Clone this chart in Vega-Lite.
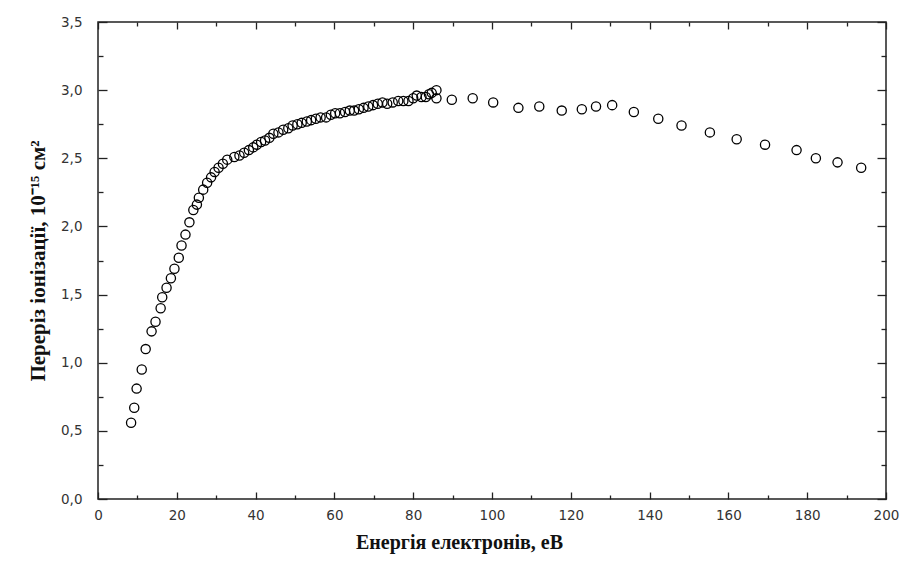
{
  "$schema": "https://vega.github.io/schema/vega-lite/v6.json",
  "width": 788,
  "height": 477,
  "autosize": "none",
  "padding": {"left": 98, "top": 22, "right": 19, "bottom": 66},
  "background": "white",
  "config": {
    "view": {"stroke": "#222", "strokeWidth": 1.5},
    "axis": {"grid": false, "domain": false, "tickColor": "#222", "tickWidth": 1.3, "labelFlush": false, "labelOverlap": false}
  },
  "data": {"values": [
    {"energy": 8.4, "sigma": 0.56}, {"energy": 9.2, "sigma": 0.67}, {"energy": 9.8, "sigma": 0.81},
    {"energy": 11.1, "sigma": 0.95}, {"energy": 12.1, "sigma": 1.10}, {"energy": 13.6, "sigma": 1.23},
    {"energy": 14.6, "sigma": 1.30}, {"energy": 15.9, "sigma": 1.40}, {"energy": 16.3, "sigma": 1.48},
    {"energy": 17.4, "sigma": 1.55}, {"energy": 18.5, "sigma": 1.62}, {"energy": 19.4, "sigma": 1.69},
    {"energy": 20.5, "sigma": 1.77}, {"energy": 21.2, "sigma": 1.86}, {"energy": 22.2, "sigma": 1.94},
    {"energy": 23.2, "sigma": 2.03}, {"energy": 24.2, "sigma": 2.12}, {"energy": 25.1, "sigma": 2.16},
    {"energy": 25.6, "sigma": 2.21}, {"energy": 26.7, "sigma": 2.27}, {"energy": 27.7, "sigma": 2.32},
    {"energy": 28.7, "sigma": 2.36}, {"energy": 29.6, "sigma": 2.40}, {"energy": 30.6, "sigma": 2.43},
    {"energy": 31.7, "sigma": 2.46}, {"energy": 32.8, "sigma": 2.49}, {"energy": 34.6, "sigma": 2.51},
    {"energy": 35.9, "sigma": 2.52}, {"energy": 37.1, "sigma": 2.54}, {"energy": 38.3, "sigma": 2.56},
    {"energy": 39.4, "sigma": 2.58}, {"energy": 40.3, "sigma": 2.60}, {"energy": 41.4, "sigma": 2.62},
    {"energy": 42.4, "sigma": 2.63}, {"energy": 43.5, "sigma": 2.65}, {"energy": 44.5, "sigma": 2.68},
    {"energy": 45.8, "sigma": 2.69}, {"energy": 47.0, "sigma": 2.71}, {"energy": 48.3, "sigma": 2.72},
    {"energy": 49.4, "sigma": 2.74}, {"energy": 50.6, "sigma": 2.75}, {"energy": 51.7, "sigma": 2.76},
    {"energy": 53.0, "sigma": 2.77}, {"energy": 54.1, "sigma": 2.78}, {"energy": 55.3, "sigma": 2.79},
    {"energy": 56.5, "sigma": 2.80}, {"energy": 57.9, "sigma": 2.80}, {"energy": 59.1, "sigma": 2.82},
    {"energy": 60.2, "sigma": 2.83}, {"energy": 61.4, "sigma": 2.83}, {"energy": 62.7, "sigma": 2.84},
    {"energy": 63.9, "sigma": 2.85}, {"energy": 65.0, "sigma": 2.85}, {"energy": 66.2, "sigma": 2.86},
    {"energy": 67.4, "sigma": 2.87}, {"energy": 68.6, "sigma": 2.88}, {"energy": 69.8, "sigma": 2.89},
    {"energy": 71.0, "sigma": 2.90}, {"energy": 72.2, "sigma": 2.91}, {"energy": 73.4, "sigma": 2.90},
    {"energy": 74.8, "sigma": 2.91}, {"energy": 76.2, "sigma": 2.92}, {"energy": 77.5, "sigma": 2.92},
    {"energy": 78.8, "sigma": 2.92}, {"energy": 80.0, "sigma": 2.94}, {"energy": 80.9, "sigma": 2.96},
    {"energy": 82.1, "sigma": 2.95}, {"energy": 83.2, "sigma": 2.95}, {"energy": 84.0, "sigma": 2.97},
    {"energy": 84.7, "sigma": 2.98}, {"energy": 85.9, "sigma": 3.00}, {"energy": 85.9, "sigma": 2.94},
    {"energy": 89.8, "sigma": 2.93}, {"energy": 95.1, "sigma": 2.94}, {"energy": 100.3, "sigma": 2.91},
    {"energy": 106.7, "sigma": 2.87}, {"energy": 112.0, "sigma": 2.88}, {"energy": 117.7, "sigma": 2.85},
    {"energy": 122.8, "sigma": 2.86}, {"energy": 126.4, "sigma": 2.88}, {"energy": 130.5, "sigma": 2.89},
    {"energy": 136.0, "sigma": 2.84}, {"energy": 142.2, "sigma": 2.79}, {"energy": 148.1, "sigma": 2.74},
    {"energy": 155.3, "sigma": 2.69}, {"energy": 162.1, "sigma": 2.64}, {"energy": 169.3, "sigma": 2.60},
    {"energy": 177.3, "sigma": 2.56}, {"energy": 182.2, "sigma": 2.50}, {"energy": 187.7, "sigma": 2.47},
    {"energy": 193.7, "sigma": 2.43}
  ]},
  "layer": [
    {
      "mark": {"type": "point", "shape": "circle", "filled": false, "stroke": "black", "strokeWidth": 1.3, "size": 85, "opacity": 1},
      "encoding": {
        "x": {"field": "energy", "type": "quantitative", "scale": {"domain": [0, 200], "nice": false, "zero": false},
          "axis": {"orient": "bottom", "values": [0, 20, 40, 60, 80, 100, 120, 140, 160, 180, 200], "ticks": false,
            "labelPadding": 9, "labelFont": "DejaVu Sans", "labelFontSize": 13.5, "labelColor": "#333",
            "title": "Енергія електронів, еВ", "titleFont": "Liberation Serif", "titleFontSize": 20, "titleFontWeight": "bold",
            "titleColor": "#111", "titlePadding": 11, "titleX": 361}},
        "y": {"field": "sigma", "type": "quantitative", "scale": {"domain": [0, 3.5], "nice": false, "zero": false},
          "axis": {"orient": "left", "values": [0, 0.5, 1, 1.5, 2, 2.5, 3, 3.5], "ticks": false,
            "labelPadding": 16, "labelFont": "DejaVu Sans", "labelFontSize": 13.5, "labelColor": "#333",
            "labelExpr": "replace(format(datum.value, '.1f'), '.', ',')",
            "title": "Переріз іонізації, 10⁻¹⁵ см²", "titleFont": "Liberation Serif", "titleFontSize": 21, "titleFontWeight": "bold",
            "titleColor": "#111", "titlePadding": 12}}
      }
    },
    {
      "mark": {"type": "point", "opacity": 0},
      "encoding": {
        "x": {"field": "energy", "type": "quantitative", "axis": {"orient": "bottom", "values": [0, 20, 40, 60, 80, 100, 120, 140, 160, 180, 200], "labels": false, "tickSize": -7, "title": null}},
        "y": {"field": "sigma", "type": "quantitative", "axis": {"orient": "left", "values": [0, 0.5, 1, 1.5, 2, 2.5, 3, 3.5], "labels": false, "tickSize": -9, "title": null}}
      }
    },
    {
      "mark": {"type": "point", "opacity": 0},
      "encoding": {
        "x": {"field": "energy", "type": "quantitative", "axis": {"orient": "bottom", "values": [10, 30, 50, 70, 90, 110, 130, 150, 170, 190], "labels": false, "tickSize": -4, "title": null}},
        "y": {"field": "sigma", "type": "quantitative", "axis": {"orient": "left", "values": [0.25, 0.75, 1.25, 1.75, 2.25, 2.75, 3.25], "labels": false, "tickSize": -5, "title": null}}
      }
    },
    {
      "mark": {"type": "point", "opacity": 0},
      "encoding": {
        "x": {"field": "energy", "type": "quantitative", "axis": {"orient": "top", "values": [0, 20, 40, 60, 80, 100, 120, 140, 160, 180, 200], "labels": false, "tickSize": -7, "title": null}},
        "y": {"field": "sigma", "type": "quantitative", "axis": {"orient": "right", "values": [0, 0.5, 1, 1.5, 2, 2.5, 3, 3.5], "labels": false, "tickSize": -9, "title": null}}
      }
    },
    {
      "mark": {"type": "point", "opacity": 0},
      "encoding": {
        "x": {"field": "energy", "type": "quantitative", "axis": {"orient": "top", "values": [10, 30, 50, 70, 90, 110, 130, 150, 170, 190], "labels": false, "tickSize": -4, "title": null}},
        "y": {"field": "sigma", "type": "quantitative", "axis": {"orient": "right", "values": [0.25, 0.75, 1.25, 1.75, 2.25, 2.75, 3.25], "labels": false, "tickSize": -5, "title": null}}
      }
    }
  ],
  "resolve": {"axis": {"x": "independent", "y": "independent"}}
}
